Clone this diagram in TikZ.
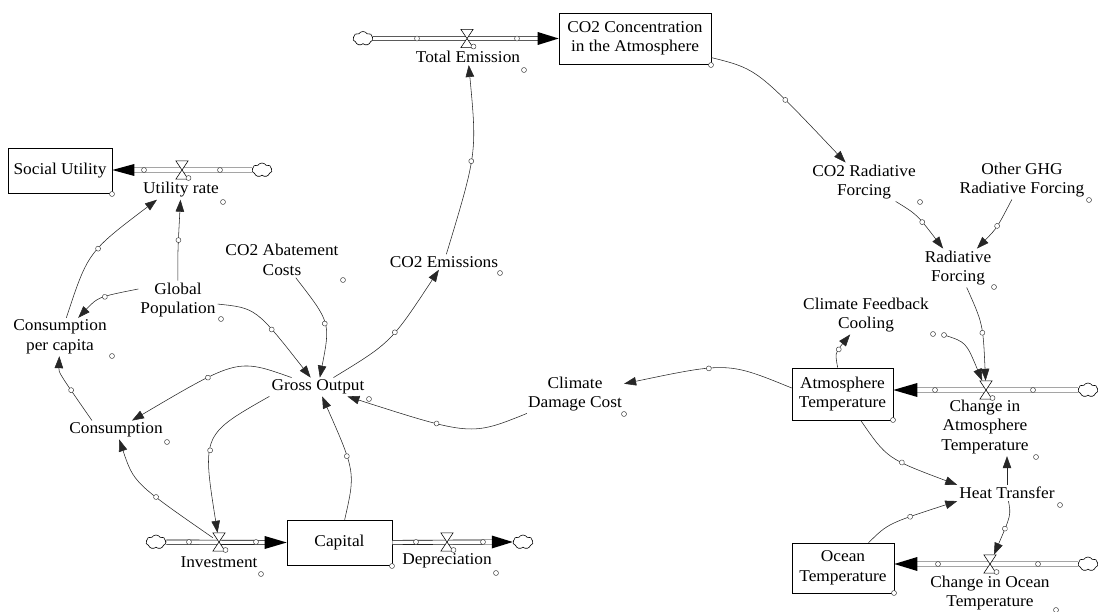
\documentclass[tikz,border=0pt]{standalone}
\usepackage{fontspec}
\setmainfont{Liberation Serif}[FakeStretch=1.05]
\usetikzlibrary{arrows.meta,shapes.symbols,decorations.markings,calc}
\newcommand\dfont{\fontsize{16.5}{19.5}\selectfont}
\newcommand\hc[1]{\draw[hcs] #1 circle (2.5pt);}
\newcommand\drawvalve[1]{%
  \draw[fill=white, line width=0.55pt] (#1.north west) -- (#1.north east) -- (#1.south west) -- (#1.south east) -- cycle;
  \draw[hcs] ([xshift=6.5pt,yshift=-8pt]#1.center) circle (2.5pt);}
\begin{document}
\begin{tikzpicture}[x=1pt,y=-1pt,
  every node/.style={font=\dfont},
  var/.style={align=center, inner sep=2pt},
  stock/.style={draw, line width=0.6pt, align=center, inner sep=0pt, fill=white},
  valve/.style={inner sep=0pt, minimum width=12pt, minimum height=18pt},
  cloudn/.style={cloud, cloud puffs=7, cloud puff arc=115, aspect=1.4, minimum width=20pt, minimum height=14pt, inner sep=0pt, draw, line width=0.6pt, fill=white},
  hcs/.style={draw=black!80, fill=white, line width=0.45pt},
  pipe/.style={draw=black, double=white, double distance=3.6pt, line width=0.65pt},
  mid/.style={postaction={decorate, decoration={markings, mark=at position 0.5 with {\draw[hcs] (0,0) circle (2.5pt);}}}},
  infon/.style={line width=0.55pt, draw=black!85, -{Triangle[length=12pt,width=8.5pt]}},
  info/.style={infon, mid}]
\useasboundingbox (0,0) rectangle (1098,612);

% stocks
\node[stock, minimum width=152pt, minimum height=51pt] (conc) at (635,38.5) {CO2 Concentration\\in the Atmosphere};
\node[stock, minimum width=104pt, minimum height=45pt] (su) at (60,170.5) {Social Utility};
\node[stock, minimum width=105pt, minimum height=45pt] (cap) at (339.5,542.5) {Capital};
\node[stock, minimum width=101pt, minimum height=52pt] (atemp) at (842.5,394) {Atmosphere\\Temperature};
\node[stock, minimum width=102pt, minimum height=50pt] (ocean) at (843,568) {Ocean\\Temperature};

% variables
\node[var] (te) at (468,57) {Total Emission};
\node[var] (ur) at (181,190) {Utility rate};
\node[var] (co2rf) at (864,182) {CO2 Radiative\\Forcing};
\node[var] (oghg) at (1022,180) {Other GHG\\Radiative Forcing};
\node[var] (rf) at (958,268) {Radiative\\Forcing};
\node[var] (cfc) at (866,315) {Climate Feedback\\Cooling};
\node[var] (catm) at (985,427) {Change in\\Atmosphere\\Temperature};
\node[var] (cdc) at (575,394) {Climate\\Damage Cost};
\node[var] (ht) at (1007,493) {Heat Transfer};
\node[var] (cocean) at (990,593) {Change in Ocean\\Temperature};
\node[var] (co2e) at (444,262) {CO2 Emissions};
\node[var] (go) at (318,387) {Gross Output};
\node[var] (co2ac) at (282,260) {CO2 Abatement\\Costs};
\node[var] (gp) at (178,300) {Global\\Population};
\node[var] (cpc) at (60,337) {Consumption\\per capita};
\node[var] (cons) at (116,430) {Consumption};
\node[var] (inv) at (219,562) {Investment};
\node[var] (dep) at (447,561) {Depreciation};

% valves and clouds
\node[valve] (vT) at (467,38.5) {};
\node[valve] (vU) at (182,170) {};
\node[valve] (vA) at (986,390) {};
\node[valve] (vO) at (990,564) {};
\node[valve] (vI) at (219,542) {};
\node[valve] (vD) at (447,542) {};
\node[cloudn] (cT) at (363,38.5) {};
\node[cloudn] (cU) at (262,170) {};
\node[cloudn] (cA) at (1088,390) {};
\node[cloudn] (cO) at (1088,564) {};
\node[cloudn] (cI) at (156,542) {};
\node[cloudn] (cD) at (523,542) {};
\coordinate (fbk) at (944,335);

% pipes
\draw[pipe] (cT) -- ([xshift=-20pt]conc.west);
\fill (conc.west) -- ++(-21,-6.5) -- ++(0,13) -- cycle;
\draw[pipe] (cU) -- ([xshift=21pt,yshift=0.5pt]su.east);
\fill ([yshift=0.5pt]su.east) -- ++(22,-6) -- ++(0,12) -- cycle;
\draw[pipe] (cA) -- ([xshift=23pt,yshift=4pt]atemp.east);
\fill ([yshift=4pt]atemp.east) -- ++(24,-7) -- ++(0,14) -- cycle;
\draw[pipe] (cO) -- ([xshift=22pt,yshift=4pt]ocean.east);
\fill ([yshift=4pt]ocean.east) -- ++(23,-7) -- ++(0,14) -- cycle;
\draw[pipe] (cI) -- ([xshift=-21pt]cap.west);
\fill (cap.west) -- ++(-22,-6.5) -- ++(0,13) -- cycle;
\draw[pipe] (cap.east) -- ([xshift=-20pt]cD.west);
\fill (cD.west) -- ++(-21,-6.5) -- ++(0,13) -- cycle;

\foreach \p in {(417,38.5),(517,38.5),(144,170),(220,170),(935,390),(1033,390),(938,564),(1038,564),(189,542),(256,542),(416,542),(483,542)} {\hc{\p}}

\drawvalve{vT}
\drawvalve{vU}
\drawvalve{vA}
\drawvalve{vO}
\drawvalve{vI}
\drawvalve{vD}

% connectors
\draw[info] (conc) .. controls (757,69) .. (co2rf);
\draw[info] (co2rf) .. controls (917,214.5) .. (rf);
\draw[info] (oghg) .. controls (997,228) .. (rf);
\draw[info] (rf) .. controls (983,324) .. (vA);
\draw[infon] (fbk) .. controls (966,342) .. (vA);
\draw[info] (atemp) .. controls (835,353) .. (cfc);
\draw[info] ([yshift=6pt]atemp.west) .. controls (728,362) .. (cdc);
\draw[info] (cdc) .. controls (471,436) .. (go);
\draw[info] (go) .. controls (391,342.5) .. (co2e);
\draw[info] (co2e) .. controls (477,153) .. (te);
\draw[info] (atemp) .. controls (887,458.5) .. (ht.north west);
\draw[info] (ocean) .. controls (888,523.5) .. (ht.south west);
\draw[infon] (ht.north) -- (ht.north |- catm.south);
\draw[info] (ht) .. controls (1011,515) .. (vO);
\draw[info] (gp) .. controls (177.7,252.3) .. (ur);
\draw[info] (cpc) .. controls (88,252) .. ([xshift=-24pt]ur.south);
\draw[info] ([yshift=11pt]gp.west) .. controls (98,297) .. (cpc);
\draw[info] ([xshift=-24pt]cons.north) .. controls (58.7,372.6) .. (cpc);
\draw[info] (go) .. controls (237.5,358.3) .. (cons);
\draw[info] (gp) .. controls (256,308) .. (go);
\draw[info] (co2ac) .. controls (330.5,322.5) .. (go);
\draw[info] (go.south west) .. controls (202,434.6) .. (vI);
\draw[info] (vI) .. controls (134,483) .. (cons);
\draw[info] (cap) .. controls (355.5,472) .. (go);

% label handles
\foreach \p in {(524,70),(711,65),(920,202),(1089,200),(994,287),(1036,457),(893,420),(624,414),(1060,505),(894,593),(1056,610),(500,273),(369,399),(343,280),(221,319),(112,356),(167,442),(112,194),(223,202),(261,574),(392,566),(496,573),(933,334),(944,335)} {\hc{\p}}
\end{tikzpicture}
\end{document}
